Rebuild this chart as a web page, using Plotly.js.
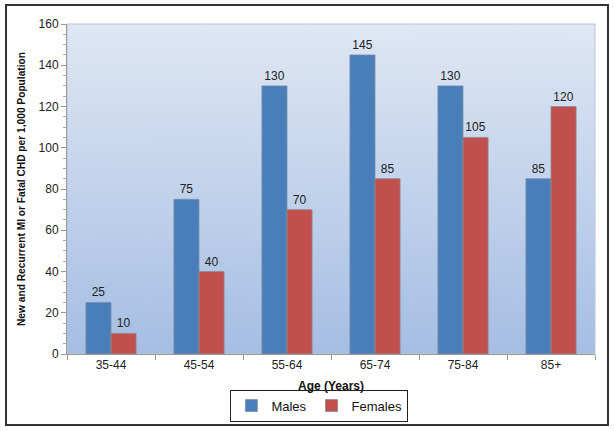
<!DOCTYPE html>
<html><head><meta charset="utf-8">
<script src="https://cdn.plot.ly/plotly-3.0.1.min.js"></script>
<style>html,body{margin:0;padding:0;background:#fff}#chart{width:614px;height:431px}</style>
</head><body><div id="chart"></div>
<script>
const categories = ["35-44","45-54","55-64","65-74","75-84","85+"];
const males = [25, 75, 130, 145, 130, 85];
const females = [10, 40, 70, 85, 105, 120];
const yTickVals = [0,20,40,60,80,100,120,140,160];

// gradient background image
const cv = document.createElement('canvas');
cv.width = 10; cv.height = 330;
const ctx = cv.getContext('2d');
const g = ctx.createLinearGradient(0,0,0,330);
g.addColorStop(0,'#dfe7f4');
g.addColorStop(1,'#a5bee3');
ctx.fillStyle = g; ctx.fillRect(0,0,10,330);
const bg = cv.toDataURL();

const font = {family:'"Liberation Sans", Arial, sans-serif', color:'#222'};
const traces = [
  {type:'bar', name:'Males', x:categories, y:males, marker:{color:'#4a7ebb', line:{color:'#7f8fa6', width:0.8}},
   text:males.map(String), textposition:'outside', textfont:{size:12, color:'#222'}, cliponaxis:false},
  {type:'bar', name:'Females', x:categories, y:females, marker:{color:'#c0504d', line:{color:'#8f8a8a', width:0.8}},
   text:females.map(String), textposition:'outside', textfont:{size:12, color:'#222'}, cliponaxis:false}
];
const layout = {
  width:614, height:431,
  margin:{l:67, r:19, t:24, b:77, autoexpand:false},
  paper_bgcolor:'#fff', plot_bgcolor:'rgba(0,0,0,0)',
  font:Object.assign({size:12}, font),
  barmode:'group', bargap:0.43, bargroupgap:0,
  showlegend:true,
  legend:{orientation:'h', x:0.478, xanchor:'center', y:-0.108, yanchor:'top',
    bordercolor:'#222', borderwidth:1, font:{size:13, color:'#111'}, itemwidth:30, bgcolor:'#fff',
    tracegroupgap:0},
  xaxis:{type:'category', showline:true, linecolor:'#999', linewidth:1, ticks:'outside', tickson:'boundaries',
    ticklen:5, tickcolor:'#999', tickfont:{size:12, color:'#222'},
    title:{text:'<b>Age (Years)</b>', font:{size:12, color:'#111'}, standoff:10}},
  yaxis:{range:[0,160], tickvals:yTickVals, showgrid:false, zeroline:false, showline:true, linecolor:'#999',
    ticks:'outside', ticklen:5, tickcolor:'#999', tickfont:{size:12, color:'#222'},
    minor:{dtick:5, ticks:'outside', ticklen:3, tickcolor:'#aaa'},
    title:{text:'<b>New and Recurrent MI or Fatal CHD per 1,000 Population</b>', font:{size:10.2, color:'#111'}, standoff:10}},
  images:[{source:bg, xref:'paper', yref:'paper', x:0, y:1, sizex:1, sizey:1, sizing:'stretch', layer:'below'}],
  shapes:[
    {type:'rect', xref:'paper', yref:'paper', x0:0, x1:1, y0:0, y1:1, line:{color:'#b8c4d6', width:1}, layer:'below'},
    {type:'rect', xref:'paper', yref:'paper', x0:-0.1155, x1:1.0246, y0:-0.215, y1:1.0576, line:{color:'#333', width:2}}
  ]
};
Plotly.newPlot('chart', traces, layout, {displayModeBar:false, staticPlot:true});
</script></body></html>
